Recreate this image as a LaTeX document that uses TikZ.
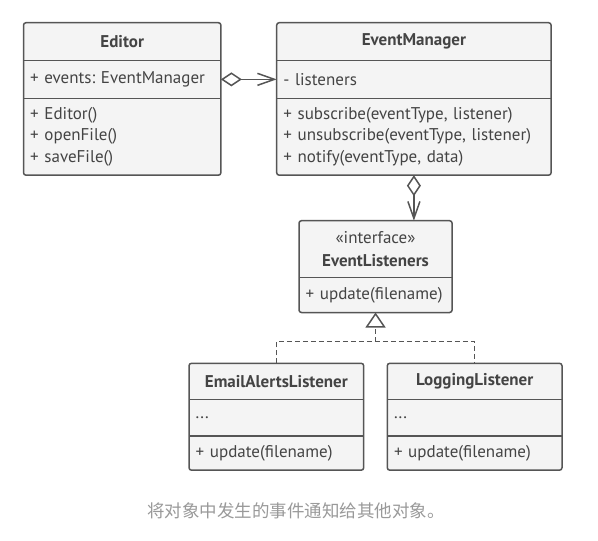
\documentclass[tikz,border=0pt]{standalone}
\usepackage{fontspec}
\setmainfont{PT Sans}
\newfontfamily\cjk{Noto Sans CJK SC}
\usetikzlibrary{positioning, arrows.meta}
\frenchspacing

\definecolor{borde}{HTML}{555555}
\definecolor{fondo}{HTML}{F4F4F4}
\definecolor{texto}{HTML}{444444}
\definecolor{nota}{HTML}{999999}

\tikzset{
  titulo/.style={fill=fondo, minimum width=#1, inner sep=0pt, align=center,
    text=texto, font=\fontsize{17}{22.7}\selectfont\bfseries},
  seccion/.style={fill=fondo, text width=#1, inner xsep=6.5pt, inner ysep=0pt,
    align=left, text=texto, font=\fontsize{17}{21.5}\selectfont},
  marco/.style={draw=borde, line width=1.5pt},
  agrega/.style={marco, {Diamond[open, length=21pt, width=14pt]}-{Straight Barb[length=17pt, width=12pt]}},
  realiza/.style={marco, dash pattern=on 5pt off 3pt}
}

\begin{document}
\begin{tikzpicture}[x=1pt, y=-1pt, node distance=0pt]
  \useasboundingbox (0,0) rectangle (598,541);

  % Clase Editor.
  \node[titulo=197pt, minimum height=37.3pt, anchor=north west] (editor) at (23.5,22.7) {Editor};
  \node[seccion=184pt, minimum height=37.5pt, below=of editor] (editor-attr) {+ events: EventManager};
  \node[seccion=184pt, minimum height=76.5pt, below=of editor-attr] (editor-ops)
    {+ Editor()\\+ openFile()\\+ saveFile()};

  % Clase EventManager.
  \node[titulo=274pt, minimum height=37.3pt, anchor=north west] (manager) at (276.7,22.7) {EventManager};
  \node[seccion=261pt, minimum height=37.5pt, below=of manager] (manager-attr) {- listeners};
  \node[seccion=261pt, minimum height=76.5pt, below=of manager-attr] (manager-ops)
    {+ subscribe(eventType, listener)\\+ unsubscribe(eventType, listener)\\+ notify(eventType, data)};

  % Interfaz EventListeners.
  \node[titulo=152.7pt, minimum height=56.6pt, anchor=north west] (listeners) at (299,220.7)
    {{\mdseries «interface»}\\EventListeners};
  \node[seccion=139.7pt, minimum height=34.4pt, below=of listeners] (listeners-ops) {+ update(filename)};

  % Clases concretas.
  \node[titulo=174.3pt, minimum height=36pt, anchor=north west] (email) at (189,363.3) {EmailAlertsListener};
  \node[seccion=161.3pt, minimum height=35.7pt, below=of email] (email-attr) {...};
  \node[seccion=161.3pt, minimum height=34pt, below=of email-attr] (email-ops) {+ update(filename)};

  \node[titulo=174.3pt, minimum height=36pt, anchor=north west] (logging) at (387.3,363.3) {LoggingListener};
  \node[seccion=161.3pt, minimum height=35.7pt, below=of logging] (logging-attr) {...};
  \node[seccion=161.3pt, minimum height=34pt, below=of logging-attr] (logging-ops) {+ update(filename)};

  % Bordes y divisiones de las clases.
  \foreach \c/\s in {editor/editor-ops, manager/manager-ops, listeners/listeners-ops,
                     email/email-ops, logging/logging-ops}
    \draw[marco, rounded corners=2.5pt] (\c.north west) rectangle (\s.south east);
  \foreach \s in {editor-attr, editor-ops, manager-attr, manager-ops, listeners-ops,
                  email-attr, email-ops, logging-attr, logging-ops}
    \draw[marco] (\s.north west) -- (\s.north east);

  % Relaciones.
  \draw[agrega] (editor-attr.east) -- (manager-attr.west);
  \draw[agrega] (manager-ops.south) -- (manager-ops.south |- listeners.north);

  \coordinate (union) at (listeners-ops.south |- 0,341.7);
  \draw[realiza] (email.north) |- (union) -| (logging.north);
  \draw[realiza, -{Triangle[open, length=15pt, width=20pt]}] (union) -- (listeners-ops.south);

  % Nota al pie.
  \node[text=nota, font=\cjk\fontsize{17.5}{20}\selectfont] (pie) at (296,511)
    {将对象中发生的事件通知给其他对象。};
\end{tikzpicture}
\end{document}
